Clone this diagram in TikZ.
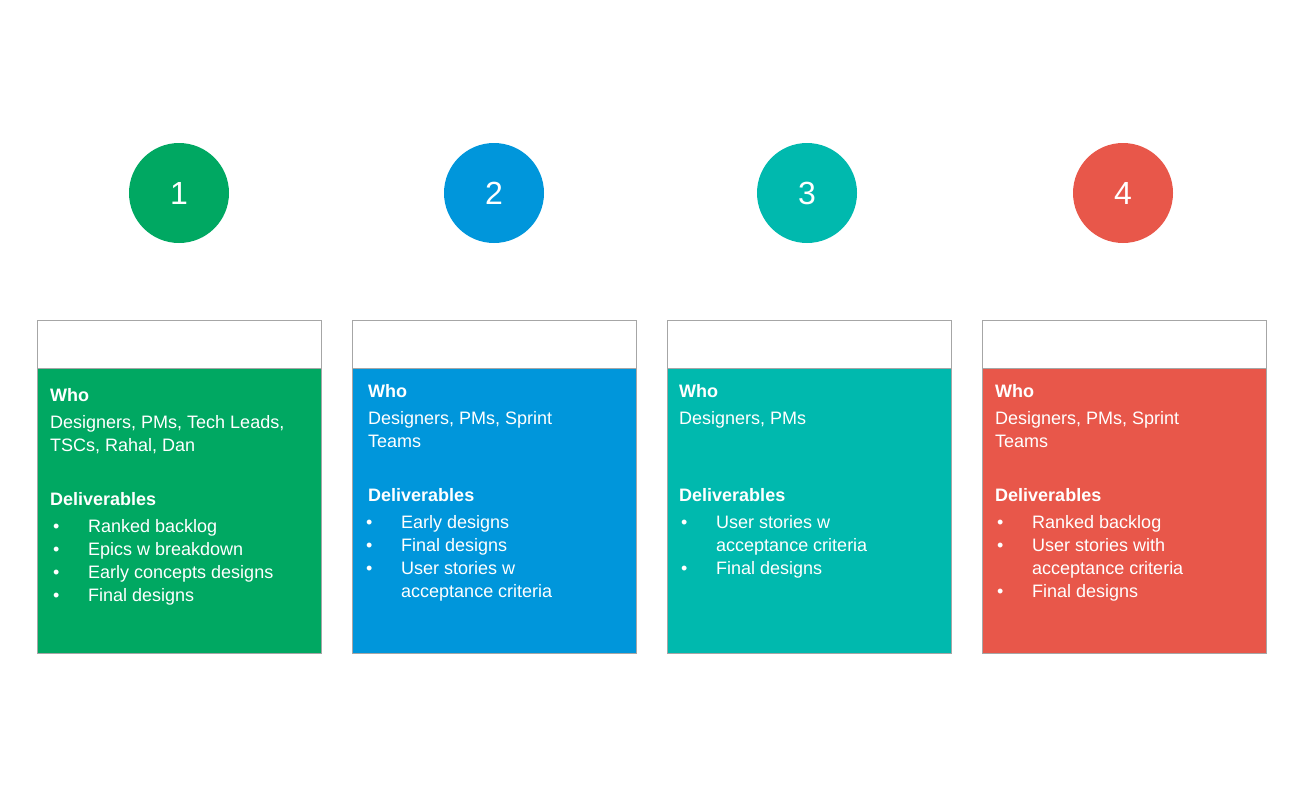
\documentclass[tikz,border=0pt]{standalone}
\usepackage{fontspec}
\setmainfont{Liberation Sans}
\definecolor{cg}{HTML}{00A862}
\definecolor{cb}{HTML}{0096DB}
\definecolor{ct}{HTML}{00B9AE}
\definecolor{cr}{HTML}{E8574A}
\begin{document}
\begin{tikzpicture}[x=1pt,y=-1pt,
  txt/.style={anchor=base west,inner sep=0pt,text=white,font=\fontsize{18}{22}\selectfont},
  hd/.style={txt,font=\fontsize{18}{22}\selectfont\bfseries},
  num/.style={circle,minimum size=100pt,inner sep=0pt,text=white,font=\fontsize{32}{36}\selectfont},
  hdr/.style={draw=gray!70,fill=white,line width=1pt},
  body/.style={draw=gray!70,line width=1pt}]
\useasboundingbox (0,0) rectangle (1300,800);
\newcommand\panel[3]{%
  \fill[#2] (#1,368) rectangle ++(284,285);
  \draw[gray!70,line width=1pt] (#1,320) rectangle ++(284,333);
  \draw[gray!70,line width=1pt] (#1,368) -- ++(284,0);
}
\panel{37}{cg}{}
\panel{352}{cb}{}
\panel{667}{ct}{}
\panel{982}{cr}{}
\node[num,fill=cg] (c1) at (179,193) {1};
\node[num,fill=cb] (c2) at (494,193) {2};
\node[num,fill=ct] (c3) at (807,193) {3};
\node[num,fill=cr] (c4) at (1123,193) {4};
\newcommand\bul[4]{\node[txt] (#4b) at (#1+16,#2) {•};\node[txt] (#4) at (#1+51,#2) {#3};}
% panel 1
\node[hd] (w1) at (50,401) {Who};
\node[txt] (w1a) at (50,428) {Designers, PMs, Tech Leads,};
\node[txt] (w1b) at (50,451) {TSCs, Rahal, Dan};
\node[hd] (d1) at (50,505) {Deliverables};
\bul{37}{532}{Ranked backlog}{a1}
\bul{37}{555}{Epics w breakdown}{a2}
\bul{37}{578}{Early concepts designs}{a3}
\bul{37}{601}{Final designs}{a4}
% panel 2
\node[hd] (w2) at (368,397) {Who};
\node[txt] (w2a) at (368,424) {Designers, PMs, Sprint};
\node[txt] (w2b) at (368,447) {Teams};
\node[hd] (d2) at (368,501) {Deliverables};
\bul{350}{528}{Early designs}{b1}
\bul{350}{551}{Final designs}{b2}
\bul{350}{574}{User stories w}{b3}
\node[txt] (b4) at (401,597) {acceptance criteria};
% panel 3
\node[hd] (w3) at (679,397) {Who};
\node[txt] (w3a) at (679,424) {Designers, PMs};
\node[hd] (d3) at (679,501) {Deliverables};
\bul{665}{528}{User stories w}{e1}
\node[txt] (e2) at (716,551) {acceptance criteria};
\bul{665}{574}{Final designs}{e3}
% panel 4
\node[hd] (w4) at (995,397) {Who};
\node[txt] (w4a) at (995,424) {Designers, PMs, Sprint};
\node[txt] (w4b) at (995,447) {Teams};
\node[hd] (d4) at (995,501) {Deliverables};
\bul{981}{528}{Ranked backlog}{f1}
\bul{981}{551}{User stories with}{f2}
\node[txt] (f3) at (1032,574) {acceptance criteria};
\bul{981}{597}{Final designs}{f4}
\end{tikzpicture}
\end{document}
